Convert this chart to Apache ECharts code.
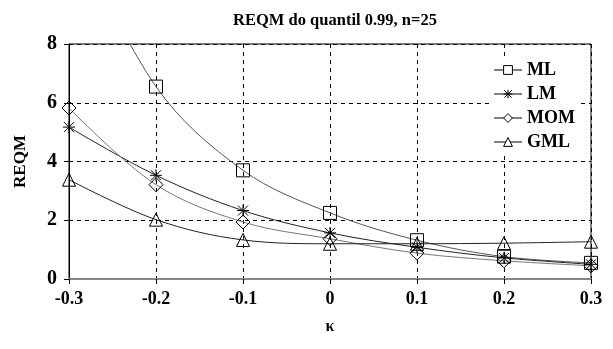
<!DOCTYPE html>
<html><head><meta charset="utf-8">
<script src="https://cdn.jsdelivr.net/npm/echarts@6/dist/echarts.min.js"></script>
<style>html,body{margin:0;padding:0;background:#fff}#c{width:613px;height:349px}</style>
</head><body><div id="c"></div>
<script>
var categories = ['-0.3','-0.2','-0.1','0','0.1','0.2','0.3'];
var yTicks = [0,2,4,6,8];
var ML  = [12.2, 6.55, 3.70, 2.25, 1.32, 0.76, 0.55];
var LM  = [5.17, 3.53, 2.33, 1.57, 1.08, 0.72, 0.50];
var MOM = [5.82, 3.21, 1.94, 1.37, 0.88, 0.62, 0.45];
var GML = [3.38, 2.02, 1.33, 1.20, 1.20, 1.22, 1.27];

var F = '"Liberation Serif","DejaVu Serif",serif';
var star = 'path://M0,0 L10,10 M10,0 L0,10 M5,-1 L5,11 M-1,5 L11,5';
function mk(name, data, symbol, size, lineColor, hideFirst){
  return {
    name: name, type: 'line', data: data.map(function(v,i){
      return (hideFirst && i===0) ? {value: v, symbol: 'none'} : v; }),
    smooth: 0.35, clip: true,
    symbol: symbol, symbolSize: size,
    lineStyle: {color: lineColor, width: 1},
    itemStyle: {color: 'none', borderColor: '#000', borderWidth: 1},
    emphasis: {disabled: true}
  };
}
var chart = echarts.init(document.getElementById('c'), null, {renderer: 'canvas'});
chart.setOption({
  animation: false,
  backgroundColor: '#fff',
  title: {text: 'REQM do quantil 0.99, n=25', left: 330, top: 7, textAlign: 'center',
    textStyle: {fontFamily: F, fontWeight: 'bold', fontSize: 16.5, color: '#000'}},
  grid: {left: 69, right: 22, top: 44, bottom: 70, show: true, borderColor: '#000', borderWidth: 1},
  legend: {
    orient: 'vertical', right: 34, top: 57, itemWidth: 28, itemHeight: 11, itemGap: 6,
    backgroundColor: '#fff', padding: [4, 4, 4, 4],
    lineStyle: {width: 1, color: '#000'},
    itemStyle: {color: '#fff', borderColor: '#000', borderWidth: 1},
    textStyle: {fontFamily: F, fontWeight: 'bold', fontSize: 18, color: '#000'},
    data: ['ML','LM','MOM','GML']
  },
  xAxis: {
    type: 'category', data: categories, boundaryGap: false,
    name: 'κ', nameLocation: 'middle', nameGap: 40,
    nameTextStyle: {fontFamily: F, fontWeight: 'bold', fontSize: 16, color: '#000'},
    axisLine: {lineStyle: {color: '#888', width: 2}},
    axisTick: {show: true, inside: false, length: 5, lineStyle: {color: '#000'}},
    axisLabel: {fontFamily: F, fontWeight: 'bold', fontSize: 18, color: '#000', margin: 11},
    splitLine: {show: true, lineStyle: {color: '#000', type: [4,4], width: 1}}
  },
  yAxis: {
    type: 'value', min: 0, max: 8, interval: 2,
    name: 'REQM', nameLocation: 'middle', nameGap: 40,
    nameTextStyle: {fontFamily: F, fontWeight: 'bold', fontSize: 17, color: '#000'},
    axisLine: {show: true, lineStyle: {color: '#000', width: 1}},
    axisTick: {show: true, length: 5, lineStyle: {color: '#000'}},
    axisLabel: {fontFamily: F, fontWeight: 'bold', fontSize: 20, color: '#000', margin: 12,
      formatter: function(v){ return yTicks.indexOf(v) >= 0 ? String(v) : ''; }},
    splitLine: {show: true, lineStyle: {color: '#000', type: [4,4], width: 1}}
  },
  series: [
    mk('ML', ML, 'rect', 13, '#555', true),
    mk('LM', LM, star, 12, '#222', false),
    mk('MOM', MOM, 'diamond', 14, '#777', false),
    mk('GML', GML, 'triangle', 13, '#222', false)
  ]
});
</script></body></html>
